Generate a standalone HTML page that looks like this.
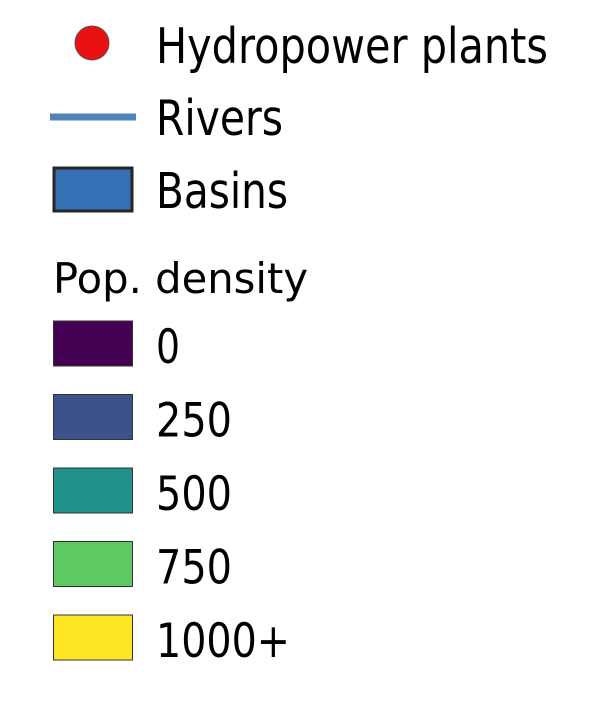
<!DOCTYPE html>
<html><head><meta charset="utf-8"><style>
html,body{margin:0;padding:0;background:#fff;}
svg{display:block;}
text{font-family:"DejaVu Sans","Liberation Sans",sans-serif;fill:#000;}
</style></head><body>
<svg width="609" height="708" viewBox="0 0 609 708">
<g>
<circle cx="92" cy="43" r="17" fill="#e81010" stroke="#555" stroke-width="1"/>
<text x="156" y="63" font-size="49" textLength="392" lengthAdjust="spacingAndGlyphs">Hydropower plants</text>
</g>
<g>
<line x1="50" y1="117" x2="136" y2="117" stroke="#4f81bd" stroke-width="7"/>
<text x="156" y="135" font-size="49" textLength="127" lengthAdjust="spacingAndGlyphs">Rivers</text>
</g>
<g>
<rect x="54" y="168" width="78" height="43" fill="#3570b4" stroke="#262626" stroke-width="3"/>
<text x="156" y="208" font-size="49" textLength="132" lengthAdjust="spacingAndGlyphs">Basins</text>
</g>
<text x="53" y="293" font-size="42" textLength="255" lengthAdjust="spacingAndGlyphs">Pop. density</text>
<g id="classes"></g>
</svg>
<script>
const labels=["0","250","500","750","1000+"];
const colors=["#440154","#3b528b","#21918c","#5ec962","#fde725"];
const widths=[24,76,76,76,134];
const g=document.getElementById('classes');
const NS="http://www.w3.org/2000/svg";
labels.forEach((l,i)=>{
  const y=321+i*73.5;
  const r=document.createElementNS(NS,'rect');
  r.setAttribute('x',53.5);r.setAttribute('y',y);r.setAttribute('width',79);r.setAttribute('height',45);
  r.setAttribute('fill',colors[i]);r.setAttribute('stroke','#333');r.setAttribute('stroke-width',1);
  
  
  g.appendChild(r);
  const t=document.createElementNS(NS,'text');
  t.setAttribute('x',156);t.setAttribute('y',y+42);t.setAttribute('font-size',47);
  t.setAttribute('textLength',widths[i]);t.setAttribute('lengthAdjust','spacingAndGlyphs');
  t.textContent=l;
  
  
  g.appendChild(t);
});
</script>
</body></html>
